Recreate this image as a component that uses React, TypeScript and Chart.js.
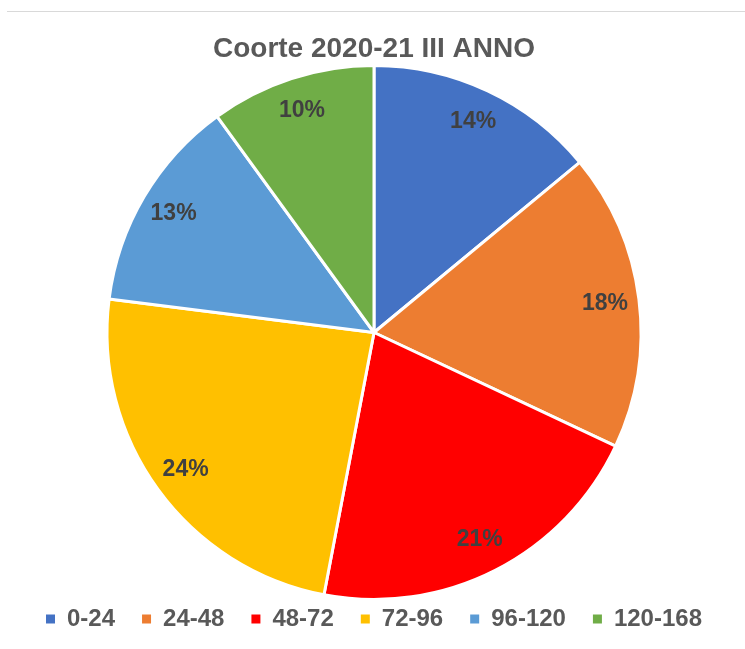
import React, { useEffect, useRef } from "react";
import { Chart, registerables } from "chart.js";

Chart.register(...registerables);

const categories = ["0-24", "24-48", "48-72", "72-96", "96-120", "120-168"];
const values = [14, 18, 21, 24, 13, 10];
const sliceColors = ["#4472C4", "#ED7D31", "#FF0000", "#FFC000", "#5B9BD5", "#70AD47"];
const chartTitle = "Coorte 2020-21 III ANNO";

const FONT = "'Liberation Sans', Arial, sans-serif";

const pctLabels = {
  id: "pctLabels",
  afterDatasetsDraw(chart: any) {
    const ctx = chart.ctx;
    const meta = chart.getDatasetMeta(0);
    ctx.save();
    ctx.font = `bold 23px ${FONT}`;
    ctx.fillStyle = "#404040";
    ctx.textAlign = "center";
    ctx.textBaseline = "middle";
    meta.data.forEach((arc: any, i: number) => {
      const p = arc.getProps(["startAngle", "endAngle", "outerRadius", "x", "y"], true);
      const mid = (p.startAngle + p.endAngle) / 2;
      const r = p.outerRadius * 0.872;
      ctx.fillText(`${values[i]}%`, p.x + Math.cos(mid) * r, p.y + Math.sin(mid) * r);
    });
    ctx.restore();
  },
};

export default function App() {
  const ref = useRef<HTMLCanvasElement | null>(null);
  useEffect(() => {
    if (!ref.current) return;
    const chart = new Chart(ref.current, {
      type: "pie",
      data: {
        labels: categories,
        datasets: [
          {
            data: values,
            backgroundColor: sliceColors,
            borderColor: "#FFFFFF",
            borderWidth: 3,
          },
        ],
      },
      options: {
        responsive: false,
        animation: false,
        devicePixelRatio: 1,
        radius: 267,
        layout: { padding: { left: 3, right: 0, top: 0, bottom: 8 } },
        plugins: {
          title: {
            display: true,
            text: chartTitle,
            color: "#595959",
            font: { family: FONT, size: 28, weight: "bold" },
            padding: { top: 32, bottom: 19.4 },
          },
          legend: {
            display: true,
            position: "bottom",
            labels: {
              boxWidth: 9,
              boxHeight: 9,
              padding: 27,
              color: "#595959",
              font: { family: FONT, size: 24, weight: "bold" },
              generateLabels: (chart: any) => {
                const items = Chart.overrides.pie.plugins.legend.labels.generateLabels(chart);
                return items.map((it: any) => ({ ...it, lineWidth: 0, strokeStyle: it.fillStyle }));
              },
            },
          },
          tooltip: { enabled: false },
        },
      } as any,
      plugins: [pctLabels],
    });
    return () => chart.destroy();
  }, []);

  return (
    <div style={{ position: "fixed", left: 0, top: 0, width: 745, height: 649, background: "#fff" }}>
      <div style={{ position: "absolute", left: 7, right: 0, top: 11, height: 1, background: "#D9D9D9" }} />
      <canvas ref={ref} width={745} height={649} style={{ position: "absolute", left: 0, top: 0 }} />
    </div>
  );
}
